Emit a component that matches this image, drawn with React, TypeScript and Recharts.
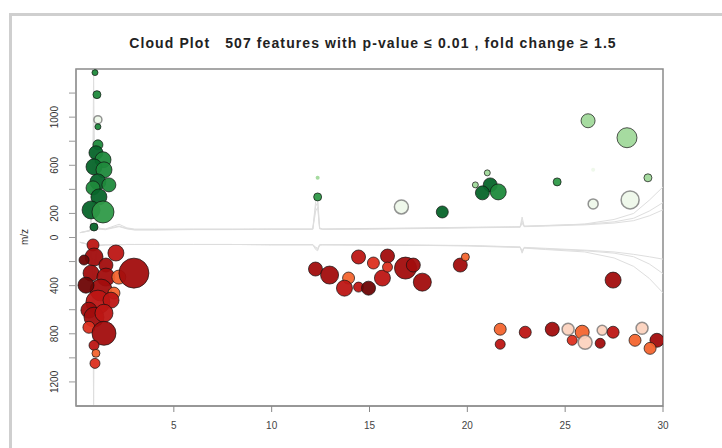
import React from "react";
import {
  ScatterChart,
  Scatter,
  XAxis,
  YAxis,
  ReferenceArea,
} from "recharts";

// features up-regulated (plotted above zero)
const upRt = [0.97, 1.07, 1.12, 1.12, 1.12, 1.02, 1.38, 0.92, 1.43, 1.12, 1.68, 0.87, 1.17, 0.77, 1.38, 0.92,
  12.35, 12.35, 16.63, 18.72, 21.02, 21.17, 20.77, 21.58, 20.41, 24.59, 26.17, 28.16, 26.43, 29.23, 26.43, 28.32];
const upMz = [1370, 1187, 979, 920, 770, 704, 646, 587, 562, 462, 437, 412, 337, 229, 212, 87,
  496, 337, 254, 212, 537, 437, 371, 379, 437, 462, 970, 829, 562, 496, 279, 312];
const upFold = [3, 4, 4, 3, 5, 7, 8, 8, 8, 8, 7, 7, 8, 9, 11, 4,
  2, 4, 7, 6, 3, 7, 7, 8, 3, 4, 7, 10, 2, 4, 5, 9];
const upPclass = [3, 3, 0, 3, 3, 4, 3, 4, 3, 4, 3, 3, 4, 4, 2, 4,
  1, 2, 0, 4, 1, 4, 4, 3, 1, 2, 1, 1, 0, 1, 0, 0];

// features down-regulated (plotted below zero)
const downRt = [0.87, 0.92, 2.04, 1.53, 0.41, 0.77, 1.53, 2.19, 2.96, 1.28, 1.94, 0.51, 1.12, 1.79, 0.66, 0.92,
  1.43, 0.66, 1.43, 0.92, 1.02, 0.97,
  12.24, 12.96, 14.44, 15.2, 15.92, 13.93, 13.72, 14.44, 14.95, 15.66, 15.92, 16.84, 17.24, 17.7, 19.64, 19.9, 27.45,
  21.68, 21.68, 22.96, 24.34, 25.15, 25.87, 25.36, 26.02, 26.89, 27.45, 26.79, 28.93, 28.57, 29.69, 29.34];
const downMz = [-62, -162, -129, -229, -187, -296, -329, -329, -296, -437, -462, -396, -537, -521, -604, -662,
  -629, -746, -796, -896, -962, -1046,
  -262, -312, -162, -212, -154, -337, -421, -412, -421, -337, -246, -254, -229, -371, -229, -162, -354,
  -762, -887, -787, -762, -762, -787, -854, -871, -771, -787, -879, -754, -854, -854, -921];
const downFold = [6, 9, 8, 7, 5, 8, 9, 7, 15, 11, 6, 8, 12, 8, 8, 10,
  9, 6, 12, 5, 4, 5,
  7, 9, 7, 6, 7, 6, 8, 5, 7, 8, 5, 11, 7, 9, 7, 4, 8,
  6, 5, 6, 7, 6, 7, 5, 7, 5, 6, 5, 6, 6, 7, 6];
const downPclass = [3, 4, 3, 4, 5, 4, 4, 1, 4, 4, 1, 5, 3, 3, 4, 4,
  3, 2, 4, 3, 1, 2,
  4, 4, 3, 2, 4, 1, 3, 3, 5, 3, 2, 4, 4, 4, 4, 1, 4,
  1, 3, 3, 4, 0, 1, 2, 0, 0, 3, 4, 0, 1, 4, 1];

// total ion chromatogram traces
const ticRt = [0.2, 0.7, 0.85, 0.9, 0.95, 1.1, 1.5, 2.2, 2.6, 3, 4, 6, 8, 10, 12.1, 12.25, 12.35, 12.45, 12.6,
  15, 18, 20, 22.7, 22.8, 22.9, 24, 26, 27.5, 28.5, 29.3, 30];
const ticUpA = [40, 60, 300, 1400, 300, 80, 70, 110, 80, 70, 70, 70, 70, 70, 70, 300, 330, 80, 70,
  75, 80, 85, 90, 170, 95, 100, 110, 130, 160, 220, 290];
const ticUpB = [40, 55, 250, 1000, 250, 75, 70, 95, 75, 65, 65, 68, 68, 70, 70, 260, 290, 75, 70,
  72, 78, 82, 88, 140, 92, 98, 112, 150, 200, 310, 420];
const ticUpC = [40, 55, 200, 900, 200, 70, 65, 90, 72, 62, 62, 66, 66, 68, 68, 220, 250, 72, 68,
  70, 75, 80, 85, 120, 90, 95, 105, 120, 140, 180, 230];
const ticDownA = [-40, -60, -300, -1390, -300, -70, -62, -60, -58, -58, -58, -58, -58, -60, -60, -100, -110, -62, -60,
  -62, -65, -68, -80, -130, -85, -95, -110, -130, -160, -220, -300];
const ticDownB = [-40, -58, -250, -1100, -250, -66, -60, -60, -58, -58, -58, -58, -58, -60, -60, -90, -100, -62, -60,
  -62, -66, -70, -84, -120, -88, -100, -120, -170, -240, -340, -460];
const ticDownC = [-40, -58, -200, -900, -200, -64, -60, -60, -58, -58, -58, -58, -58, -60, -60, -80, -90, -62, -60,
  -62, -64, -66, -78, -110, -82, -90, -105, -120, -140, -160, -180];

const xTicks = [5, 10, 15, 20, 25, 30];
const yTicks = [-1200, -1000, -800, -600, -400, -200, 0, 200, 400, 600, 800, 1000, 1200];
const yLabelled = [1000, 600, 200, 0, -400, -800, -1200];

const greens = ["#eef8ea", "#a1d99b", "#2f9a48", "#1f8a3c", "#07652a"];
const reds = ["#fcd3bf", "#f3652f", "#dc3020", "#bd1614", "#a20d0d", "#6e0505"];

const upData = upRt.map((rt, i) => ({ rt, mz: upMz[i], fold: upFold[i], p: upPclass[i] }));
const downData = downRt.map((rt, i) => ({ rt, mz: downMz[i], fold: downFold[i], p: downPclass[i] }));
const trace = (ys: number[]) => ticRt.map((rt, i) => ({ rt, mz: ys[i] }));

const makeDot = (palette: string[]) => (props: any) => {
  const { cx, cy, payload } = props;
  const fill = palette[payload.p];
  const light = payload.p === 0;
  return (
    <circle
      cx={cx}
      cy={cy}
      r={payload.fold}
      fill={fill}
      fillOpacity={0.95}
      stroke={light ? "#666" : "#111"}
      strokeOpacity={payload.fold <= 2 ? 0 : 0.7}
      strokeWidth={light ? 1.5 : 1}
    />
  );
};

const noDot = () => <g />;

function YTick({ x, y, payload }: any) {
  if (!yLabelled.includes(payload.value)) return null;
  const tx = x - 9;
  return (
    <text
      x={tx}
      y={y}
      transform={`rotate(-90, ${tx}, ${y})`}
      textAnchor="middle"
      fontSize={10}
      fill="#333"
    >
      {Math.abs(payload.value)}
    </text>
  );
}

export default function App() {
  const traceLine = { stroke: "#dedede", strokeWidth: 1 };
  return (
    <div
      style={{
        position: "absolute",
        left: 0,
        top: 0,
        width: 722,
        height: 448,
        background: "#fff",
        fontFamily: "'Liberation Sans', Arial, sans-serif",
        overflow: "hidden",
      }}
    >
      <div
        style={{
          position: "absolute",
          left: 9,
          top: 13,
          width: 730,
          height: 450,
          borderLeft: "3px solid #cfcfcf",
          borderTop: "3px solid #cfcfcf",
        }}
      />
      <div
        style={{
          position: "absolute",
          top: 35,
          left: 0,
          width: 746,
          textAlign: "center",
          fontSize: 14,
          letterSpacing: 1.1,
          fontWeight: "bold",
          color: "#222",
          whiteSpace: "pre",
        }}
      >
        {"Cloud Plot   507 features with p-value \u2264 0.01 , fold change \u2265 1.5"}
      </div>
      <div
        style={{
          position: "absolute",
          left: 24,
          top: 237,
          transform: "translate(-50%, -50%) rotate(-90deg)",
          fontSize: 10,
          color: "#333",
        }}
      >
        m/z
      </div>
      <ScatterChart
        width={722}
        height={448}
        margin={{ top: 69, right: 59, bottom: 12, left: 26 }}
        style={{ position: "absolute", left: 0, top: 0 }}
      >
        <XAxis
          type="number"
          dataKey="rt"
          domain={[0, 30]}
          ticks={xTicks}
          allowDataOverflow
          height={30}
          tickSize={6}
          tickMargin={10}
          tick={{ fontSize: 10, fill: "#444" }}
          stroke="#888"
        />
        <YAxis
          type="number"
          dataKey="mz"
          domain={[-1400, 1400]}
          ticks={yTicks}
          allowDataOverflow
          width={50}
          tickSize={7}
          tick={<YTick />}
          stroke="#999"
        />
        <ReferenceArea
          x1={0}
          x2={30}
          y1={-1400}
          y2={1400}
          fill="none"
          stroke="#8a8a8a"
          strokeWidth={1.5}
          ifOverflow="visible"
        />
        <Scatter data={trace(ticUpA)} line={traceLine} shape={noDot} isAnimationActive={false} />
        <Scatter data={trace(ticUpB)} line={traceLine} shape={noDot} isAnimationActive={false} />
        <Scatter data={trace(ticUpC)} line={traceLine} shape={noDot} isAnimationActive={false} />
        <Scatter data={trace(ticDownA)} line={traceLine} shape={noDot} isAnimationActive={false} />
        <Scatter data={trace(ticDownB)} line={traceLine} shape={noDot} isAnimationActive={false} />
        <Scatter data={trace(ticDownC)} line={traceLine} shape={noDot} isAnimationActive={false} />
        <Scatter data={upData} shape={makeDot(greens)} isAnimationActive={false} />
        <Scatter data={downData} shape={makeDot(reds)} isAnimationActive={false} />
      </ScatterChart>
    </div>
  );
}
